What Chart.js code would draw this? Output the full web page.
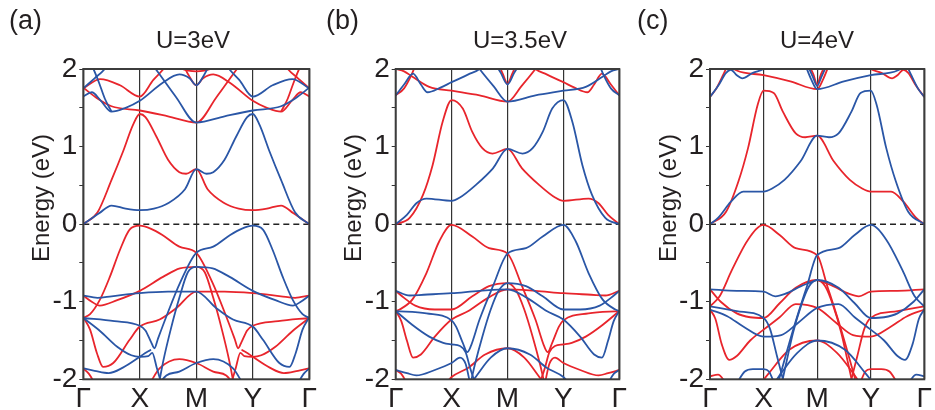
<!DOCTYPE html>
<html><head><meta charset="utf-8">
<style>
html,body{margin:0;padding:0;background:#fff;width:935px;height:410px;overflow:hidden}
.p{position:absolute;top:0;height:410px}
canvas{display:block}
</style>
<script src="https://cdn.jsdelivr.net/npm/chart.js@4.4.1/dist/chart.umd.min.js"></script>
</head><body>
<div class="p" style="left:0;width:320px"><canvas id="ca" width="320" height="410"></canvas></div>
<div class="p" style="left:320px;width:310px"><canvas id="cb" width="310" height="410"></canvas></div>
<div class="p" style="left:630px;width:305px"><canvas id="cc" width="305" height="410"></canvas></div>
<script>
// ---- labels ----
const pathLabels = ['Γ','X','M','Y','Γ'];
const pathPos = [0,1,2,3,4];
const yTickVals = [-2,-1.5,-1,-0.5,0,0.5,1,1.5,2];
const panelLetters = ['(a)','(b)','(c)'];
const panelTitles = ['U=3eV','U=3.5eV','U=4eV'];
const yTitle = 'Energy (eV)';

// ---- panel (a) U=3eV : [k, E] ----
const aR1 = [[0,0],[0.25,0.15],[0.5,0.57],[0.7,0.93],[0.88,1.28],[1,1.42],[1.1,1.38],[1.3,1.12],[1.5,0.83],[1.7,0.67],[1.82,0.65],[2,0.71],[2.2,0.45],[2.5,0.27],[2.75,0.2],[3,0.18],[3.25,0.2],[3.5,0.24],[3.72,0.14],[4,0]];
const aB1 = [[0,0],[0.28,0.14],[0.5,0.24],[0.75,0.2],[1,0.18],[1.25,0.2],[1.5,0.27],[1.8,0.45],[2,0.71],[2.18,0.65],[2.3,0.67],[2.5,0.83],[2.7,1.12],[2.9,1.38],[3,1.42],[3.12,1.28],[3.3,0.93],[3.5,0.57],[3.75,0.15],[4,0]];
const aR2 = [[0,1.76],[0.25,1.62],[0.5,1.52],[1,1.465],[1.5,1.39],[2,1.31],[2.36,1.64],[2.72,2.0],[2.85,2.12]];
const aB2 = [[1.15,2.12],[1.28,2.0],[1.64,1.64],[2,1.31],[2.5,1.39],[3,1.465],[3.5,1.52],[3.75,1.62],[4,1.76]];
const aR3 = [[0,1.75],[0.3,1.87],[0.65,1.79],[1,1.645],[1.24,1.86],[1.42,2.0],[1.5,2.08]];
const aB3 = [[2.5,2.08],[2.58,2.0],[2.76,1.86],[3,1.645],[3.35,1.79],[3.7,1.87],[4,1.75]];
const aB4 = [[0,1.645],[0.15,1.7],[0.3,1.6],[0.5,1.45],[0.75,1.5],[1,1.59],[1.4,1.82],[1.7,1.93],[1.88,1.88],[2,1.79],[2.12,1.9],[2.25,2.08]];
const aR4 = [[1.75,2.08],[1.88,1.9],[2,1.79],[2.12,1.88],[2.3,1.93],[2.6,1.82],[3,1.59],[3.25,1.5],[3.5,1.45],[3.7,1.6],[3.85,1.7],[4,1.645]];
const aR5 = [[1.55,2.1],[1.75,2.0],[2,1.97],[2.25,2.0],[2.45,2.1]];
const aB5 = [[0,1.75],[0.2,1.88],[0.38,2.0],[0.45,2.08]];
const aR6 = [[3.55,2.08],[3.62,2.0],[3.8,1.88],[4,1.75]];
const aB6 = [[0.12,2.08],[0.18,2.0],[0.28,1.82],[0.38,1.62],[0.5,1.45]];
const aR7 = [[3.5,1.45],[3.62,1.62],[3.72,1.82],[3.82,2.0],[3.88,2.08]];
const aR8 = [[0,-1.21],[0.12,-1.16],[0.29,-0.98],[0.47,-0.68],[0.65,-0.33],[0.82,-0.07],[1,-0.02],[1.2,-0.06],[1.4,-0.14],[1.7,-0.29],[2,-0.37],[2.29,-0.76],[2.53,-1.19],[2.68,-1.48],[2.74,-1.6],[2.8,-1.52],[2.9,-1.37],[3,-1.31],[3.45,-1.25],[4,-1.21]];
const aB8 = [[0,-1.21],[0.55,-1.25],[1,-1.31],[1.1,-1.37],[1.2,-1.52],[1.26,-1.6],[1.32,-1.48],[1.47,-1.19],[1.71,-0.76],[2,-0.37],[2.3,-0.29],[2.6,-0.14],[2.8,-0.06],[3,-0.02],[3.18,-0.07],[3.35,-0.33],[3.53,-0.68],[3.71,-0.98],[3.88,-1.16],[4,-1.21]];
const aR9 = [[0,-0.92],[0.15,-1.0],[0.29,-1.05],[0.6,-0.98],[1,-0.86],[1.41,-0.68],[1.71,-0.57],[2,-0.55],[2.15,-0.62],[2.3,-0.95],[2.45,-1.35],[2.58,-1.75],[2.66,-2.05]];
const aB9 = [[1.34,-2.05],[1.42,-1.75],[1.55,-1.35],[1.7,-0.95],[1.85,-0.62],[2,-0.55],[2.29,-0.57],[2.59,-0.68],[3,-0.86],[3.4,-0.98],[3.71,-1.05],[3.85,-1.0],[4,-0.92]];
const aR10 = [[0,-1.2],[0.12,-1.36],[0.24,-1.66],[0.35,-1.84],[0.53,-1.79],[0.82,-1.49],[1,-1.32],[1.35,-1.23],[1.65,-1.08],[2,-0.87],[2.5,-0.87],[3,-0.89],[3.5,-0.93],[3.75,-0.95],[4,-0.92]];
const aB10 = [[0,-0.92],[0.25,-0.95],[0.5,-0.93],[1,-0.89],[1.5,-0.87],[2,-0.87],[2.35,-1.08],[2.65,-1.23],[3,-1.32],[3.18,-1.49],[3.47,-1.79],[3.65,-1.84],[3.76,-1.66],[3.88,-1.36],[4,-1.2]];
const aB11 = [[0,-1.21],[0.3,-1.38],[0.6,-1.58],[0.85,-1.69],[1,-1.71],[1.15,-1.7],[1.22,-1.66],[1.3,-1.85],[1.38,-2.05]];
const aR11 = [[2.62,-2.05],[2.7,-1.85],[2.78,-1.66],[2.85,-1.7],[3,-1.71],[3.15,-1.69],[3.4,-1.58],[3.7,-1.38],[4,-1.21]];
const aB12 = [[0,-1.86],[0.2,-1.89],[0.45,-1.92],[0.7,-1.85],[1,-1.71],[1.12,-1.65],[1.2,-1.62]];
const aR12 = [[2.8,-1.62],[2.88,-1.65],[3,-1.71],[3.3,-1.85],[3.55,-1.92],[3.8,-1.89],[4,-1.86]];
const aR13 = [[0,-1.86],[0.1,-1.93],[0.2,-2.05]];
const aB13 = [[3.8,-2.05],[3.9,-1.93],[4,-1.86]];
const aR14 = [[1.18,-2.05],[1.35,-1.86],[1.7,-1.74],[2,-1.79],[2.3,-1.9],[2.53,-1.95],[2.65,-2.05]];
const aB14 = [[1.35,-2.05],[1.47,-1.95],[1.7,-1.9],[2,-1.79],[2.3,-1.74],[2.65,-1.86],[2.82,-2.05]];

// ---- panel (b) U=3.5eV ----
const bR1 = [[0,0],[0.25,0.08],[0.49,0.38],[0.66,0.76],[0.84,1.32],[1,1.6],[1.2,1.49],[1.37,1.19],[1.55,0.98],[1.73,0.91],[2,0.97],[2.26,0.72],[2.56,0.51],[2.86,0.34],[3,0.3],[3.45,0.33],[3.63,0.27],[3.8,0.12],[4,0]];
const bB1 = [[0,0],[0.2,0.12],[0.37,0.27],[0.55,0.33],[1,0.3],[1.14,0.34],[1.44,0.51],[1.74,0.72],[2,0.97],[2.27,0.91],[2.45,0.98],[2.63,1.19],[2.8,1.49],[3,1.6],[3.16,1.32],[3.34,0.76],[3.51,0.38],[3.75,0.08],[4,0]];
const bR2 = [[0,2.0],[0.15,1.97],[0.3,1.9],[0.6,1.77],[1,1.72],[1.5,1.66],[2,1.58],[2.25,1.78],[2.5,2.0],[2.6,2.1]];
const bB2 = [[1.4,2.1],[1.5,2.0],[1.75,1.78],[2,1.58],[2.5,1.66],[3,1.72],[3.4,1.77],[3.7,1.9],[3.85,1.97],[4,2.0]];
const bR3 = [[0,1.66],[0.15,1.75],[0.28,1.92],[0.37,2.08]];
const bB3 = [[3.63,2.08],[3.72,1.92],[3.85,1.75],[4,1.66]];
const bB4 = [[0,1.66],[0.15,1.8],[0.31,1.94],[0.45,1.8],[0.57,1.7],[0.8,1.76],[1,1.83],[1.3,1.93],[1.5,2.0],[1.6,2.08]];
const bR4 = [[2.4,2.08],[2.5,2.0],[2.7,1.93],[3,1.83],[3.2,1.76],[3.43,1.7],[3.55,1.8],[3.69,1.94],[3.85,1.8],[4,1.66]];
const bB5 = [[1.75,2.1],[1.88,1.95],[2,1.8],[2.12,1.95],[2.25,2.1]];
const bR5 = [[1.82,2.1],[1.92,1.93],[2,1.81],[2.08,1.93],[2.18,2.1]];
const bR6 = [[0,-1.12],[0.07,-1.1],[0.3,-0.97],[0.55,-0.63],[0.78,-0.22],[1,-0.01],[1.37,-0.16],[1.67,-0.31],[2,-0.38],[2.26,-0.8],[2.5,-1.23],[2.66,-1.58],[2.72,-1.65],[2.8,-1.53],[2.92,-1.32],[3,-1.24],[3.45,-1.15],[4,-1.12]];
const bB6 = [[0,-1.12],[0.55,-1.15],[1,-1.24],[1.08,-1.32],[1.2,-1.53],[1.28,-1.65],[1.34,-1.58],[1.5,-1.23],[1.74,-0.8],[2,-0.38],[2.33,-0.31],[2.63,-0.16],[3,-0.01],[3.22,-0.22],[3.45,-0.63],[3.7,-0.97],[3.93,-1.1],[4,-1.12]];
const bR7 = [[0,-0.86],[0.15,-0.95],[0.35,-1.05],[0.7,-1.1],[1,-1.1],[1.37,-0.93],[1.67,-0.8],[2,-0.76],[2.15,-0.85],[2.3,-1.1],[2.45,-1.45],[2.58,-1.8],[2.66,-2.05]];
const bB7 = [[1.34,-2.05],[1.42,-1.8],[1.55,-1.45],[1.7,-1.1],[1.85,-0.85],[2,-0.76],[2.33,-0.8],[2.63,-0.93],[3,-1.1],[3.3,-1.1],[3.65,-1.05],[3.85,-0.95],[4,-0.86]];
const bR8 = [[0,-1.12],[0.1,-1.25],[0.2,-1.5],[0.31,-1.72],[0.45,-1.68],[0.7,-1.45],[1,-1.23],[1.3,-1.12],[1.65,-0.95],[2,-0.84],[2.5,-0.86],[3,-0.89],[3.5,-0.91],[3.75,-0.92],[4,-0.86]];
const bB8 = [[0,-0.86],[0.25,-0.92],[0.5,-0.91],[1,-0.89],[1.5,-0.86],[2,-0.84],[2.35,-0.95],[2.7,-1.12],[3,-1.23],[3.3,-1.45],[3.55,-1.68],[3.69,-1.72],[3.8,-1.5],[3.9,-1.25],[4,-1.12]];
const bB9 = [[0,-1.12],[0.3,-1.3],[0.6,-1.45],[0.85,-1.53],[1,-1.55],[1.15,-1.57],[1.25,-1.65],[1.33,-1.85],[1.42,-2.05]];
const bR9 = [[2.58,-2.05],[2.67,-1.85],[2.75,-1.65],[2.85,-1.57],[3,-1.55],[3.15,-1.53],[3.4,-1.45],[3.7,-1.3],[4,-1.12]];
const bB10 = [[0,-1.88],[0.2,-1.92],[0.37,-1.95],[0.7,-1.88],[1,-1.79],[1.15,-1.72],[1.25,-1.8],[1.33,-2.05]];
const bR10 = [[2.67,-2.05],[2.75,-1.8],[2.85,-1.72],[3,-1.79],[3.3,-1.88],[3.63,-1.95],[3.8,-1.92],[4,-1.88]];
const bR11 = [[0.9,-2.05],[1,-1.97],[1.3,-1.85],[1.6,-1.68],[2,-1.6],[2.3,-1.72],[2.55,-1.95],[2.65,-2.05]];
const bB11 = [[1.35,-2.05],[1.45,-1.95],[1.7,-1.72],[2,-1.6],[2.4,-1.68],[2.7,-1.85],[3,-1.97],[3.1,-2.05]];
const bR12 = [[0,-1.88],[0.1,-1.93],[0.2,-2.05]];
const bB12 = [[3.8,-2.05],[3.9,-1.93],[4,-1.88]];

// ---- panel (c) U=4eV ----
const cR1 = [[0,0],[0.3,0.16],[0.53,0.55],[0.71,0.98],[0.89,1.54],[1,1.72],[1.19,1.69],[1.36,1.45],[1.6,1.17],[1.78,1.12],[2,1.14],[2.31,0.81],[2.61,0.57],[2.84,0.46],[3,0.42],[3.38,0.42],[3.61,0.29],[3.85,0.08],[4,0]];
const cB1 = [[0,0],[0.15,0.08],[0.39,0.29],[0.62,0.42],[1,0.42],[1.16,0.46],[1.39,0.57],[1.69,0.81],[2,1.14],[2.22,1.12],[2.4,1.17],[2.64,1.45],[2.81,1.69],[3,1.72],[3.11,1.54],[3.29,0.98],[3.47,0.55],[3.7,0.16],[4,0]];
const cR2 = [[0.3,2.08],[0.5,1.98],[1,1.92],[1.5,1.84],[2,1.74],[2.12,1.88],[2.22,2.05]];
const cB2 = [[1.78,2.05],[1.88,1.88],[2,1.74],[2.5,1.84],[3,1.92],[3.5,1.98],[3.7,2.08]];
const cB3 = [[0,1.64],[0.15,1.78],[0.3,1.95],[0.39,1.99],[0.5,1.92],[0.6,1.88],[0.8,1.95],[1,2.0],[1.1,2.05]];
const cR3 = [[2.9,2.05],[3,2.0],[3.2,1.95],[3.4,1.88],[3.5,1.92],[3.61,1.99],[3.7,1.95],[3.85,1.78],[4,1.64]];
const cR4 = [[0,1.64],[0.12,1.75],[0.25,1.93],[0.33,2.05]];
const cB4 = [[3.67,2.05],[3.75,1.93],[3.88,1.75],[4,1.64]];
const cR5 = [[1.85,2.05],[1.93,1.93],[2,1.8],[2.07,1.93],[2.15,2.05]];
const cB5 = [[1.82,2.05],[1.92,1.9],[2,1.78],[2.08,1.9],[2.18,2.05]];
const cR6 = [[0,-1.06],[0.18,-0.93],[0.41,-0.59],[0.71,-0.2],[1,-0.01],[1.3,-0.14],[1.6,-0.31],[2,-0.4],[2.19,-0.8],[2.43,-1.32],[2.61,-1.75],[2.73,-2.05]];
const cB6 = [[1.27,-2.05],[1.39,-1.75],[1.57,-1.32],[1.81,-0.8],[2,-0.4],[2.4,-0.31],[2.7,-0.14],[3,-0.01],[3.29,-0.2],[3.59,-0.59],[3.82,-0.93],[4,-1.06]];
const cR7 = [[2.62,-2.05],[2.75,-1.7],[2.88,-1.35],[3,-1.21],[3.5,-1.12],[4,-1.06]];
const cB7 = [[0,-1.06],[0.5,-1.12],[1,-1.21],[1.12,-1.35],[1.25,-1.7],[1.38,-2.05]];
const cR8 = [[0,-0.84],[0.2,-1.0],[0.5,-1.15],[0.75,-1.2],[1,-1.21],[1.3,-1.02],[1.6,-0.82],[2,-0.72],[2.15,-0.8],[2.3,-1.05],[2.45,-1.4],[2.58,-1.8],[2.66,-2.05]];
const cB8 = [[1.34,-2.05],[1.42,-1.8],[1.55,-1.4],[1.7,-1.05],[1.85,-0.8],[2,-0.72],[2.4,-0.82],[2.7,-1.02],[3,-1.21],[3.25,-1.2],[3.5,-1.15],[3.8,-1.0],[4,-0.84]];
const cR9 = [[2,-0.72],[2.3,-0.8],[2.6,-0.9],[2.78,-0.93],[3,-0.87],[3.5,-0.86],[4,-0.84]];
const cB9 = [[0,-0.84],[0.5,-0.86],[1,-0.87],[1.22,-0.93],[1.4,-0.9],[1.7,-0.8],[2,-0.72]];
const cR10 = [[0,-1.1],[0.1,-1.22],[0.22,-1.55],[0.36,-1.75],[0.5,-1.7],[0.75,-1.5],[1,-1.36],[1.3,-1.2],[1.6,-1.03],[2,-1.08],[2.37,-1.28],[2.67,-1.43],[3,-1.45],[3.38,-1.32],[3.67,-1.19],[4,-1.1]];
const cB10 = [[0,-1.1],[0.33,-1.19],[0.62,-1.32],[1,-1.45],[1.33,-1.43],[1.63,-1.28],[2,-1.08],[2.4,-1.03],[2.7,-1.2],[3,-1.36],[3.25,-1.5],[3.5,-1.7],[3.64,-1.75],[3.78,-1.55],[3.9,-1.22],[4,-1.1]];
const cR11 = [[0.95,-2.05],[1.1,-1.92],[1.48,-1.62],[2,-1.5],[2.37,-1.66],[2.67,-1.92],[2.8,-2.05]];
const cB11 = [[1.2,-2.05],[1.33,-1.92],[1.63,-1.66],[2,-1.5],[2.52,-1.62],[2.9,-1.92],[3.05,-2.05]];
const cB12 = [[0.5,-2.05],[0.65,-1.9],[0.8,-1.87],[1,-1.87],[1.1,-1.9],[1.2,-2.05]];
const cR12 = [[2.8,-2.05],[2.9,-1.9],[3,-1.87],[3.2,-1.87],[3.35,-1.9],[3.5,-2.05]];
const cR13 = [[0,-1.96],[0.15,-1.94],[0.3,-2.05]];
const cB13 = [[3.7,-2.05],[3.85,-1.94],[4,-1.96]];

// ---- styling / layout ----
const RED = '#e8252c';
const BLUE = '#2a56a6';
const INK = '#231f20';
const FONT = "'Liberation Sans', Arial, sans-serif";

const panels = [
  { id:'ca', yW:83.3, padR:10, letterX:9, titleX:193,
    red:[aR1,aR2,aR3,aR4,aR5,aR6,aR7,aR8,aR9,aR10,aR11,aR12,aR13,aR14],
    blue:[aB1,aB2,aB3,aB4,aB5,aB6,aB8,aB9,aB10,aB11,aB12,aB13,aB14] },
  { id:'cb', yW:75.7, padR:8, letterX:6, titleX:200,
    red:[bR1,bR2,bR3,bR4,bR5,bR6,bR7,bR8,bR9,bR10,bR11,bR12],
    blue:[bB1,bB2,bB3,bB4,bB5,bB6,bB7,bB8,bB9,bB10,bB11,bB12] },
  { id:'cc', yW:80, padR:0.7, letterX:7, titleX:187,
    red:[cR1,cR2,cR3,cR4,cR5,cR6,cR7,cR8,cR9,cR10,cR11,cR12,cR13],
    blue:[cB1,cB2,cB3,cB4,cB5,cB6,cB7,cB8,cB9,cB10,cB11,cB12,cB13] }
];

const decor = {
  id:'decor',
  beforeDatasetsDraw(chart){
    const {ctx, chartArea:a, scales:{y}} = chart;
    const y0 = y.getPixelForValue(0);
    ctx.save();
    ctx.strokeStyle = '#222'; ctx.lineWidth = 1.5; ctx.setLineDash([6,4]);
    ctx.beginPath(); ctx.moveTo(a.left, y0); ctx.lineTo(a.right, y0); ctx.stroke();
    ctx.restore();
  },
  afterDraw(chart, args, o){
    const {ctx, chartArea:a} = chart;
    ctx.save();
    ctx.strokeStyle = '#3c3c3c'; ctx.lineWidth = 2;
    ctx.strokeRect(a.left, a.top, a.right - a.left, a.bottom - a.top);
    ctx.fillStyle = INK;
    ctx.textBaseline = 'alphabetic';
    ctx.textAlign = 'left';
    ctx.font = '27px ' + FONT;
    ctx.fillText(o.letter, o.letterX, 29);
    ctx.textAlign = 'center';
    ctx.font = '24px ' + FONT;
    ctx.fillText(o.title, o.titleX, 48);
    ctx.translate(a.left - 41, 198);
    ctx.rotate(-Math.PI/2);
    ctx.font = '24px ' + FONT;
    ctx.textBaseline = 'middle';
    ctx.fillText(o.yTitle, 0, 0);
    ctx.restore();
  }
};

panels.forEach((p, i) => {
  const ds = [];
  p.red.forEach(b => ds.push({data:b.map(q => ({x:q[0], y:q[1]})), borderColor:RED, order:2}));
  p.blue.forEach(b => ds.push({data:b.map(q => ({x:q[0], y:q[1]})), borderColor:BLUE, order:1}));
  new Chart(document.getElementById(p.id), {
    type:'line',
    data:{datasets:ds},
    options:{
      responsive:false, animation:false, devicePixelRatio:1,
      elements:{point:{radius:0}, line:{borderWidth:1.8, cubicInterpolationMode:'monotone', fill:false}},
      layout:{padding:{top:69, right:p.padR, left:0, bottom:0}},
      scales:{
        x:{type:'linear', min:0, max:4,
          afterFit:s => { s.height = 30.7; },
          afterBuildTicks:s => { s.ticks = pathPos.map(v => ({value:v})); },
          ticks:{callback:v => pathLabels[Math.round(v)], font:{family:FONT, size:28}, color:INK, padding:3, autoSkip:false, maxRotation:0},
          grid:{color:'#333', lineWidth:1.2, drawTicks:false},
          border:{display:false}},
        y:{type:'linear', min:-2, max:2,
          afterFit:s => { s.width = p.yW; },
          afterBuildTicks:s => { s.ticks = yTickVals.map(v => ({value:v})); },
          ticks:{callback:v => Number.isInteger(v) ? String(v) : '', font:{family:FONT, size:28}, color:INK, padding:2, autoSkip:false},
          grid:{drawOnChartArea:false, drawTicks:true, tickLength:4, color:'#333', lineWidth:1},
          border:{display:false}}
      },
      plugins:{legend:{display:false}, tooltip:{enabled:false}, title:{display:false},
        decor:{letter:panelLetters[i], letterX:p.letterX, title:panelTitles[i], titleX:p.titleX, yTitle:yTitle}}
    },
    plugins:[decor]
  });
});
</script>
</body></html>
